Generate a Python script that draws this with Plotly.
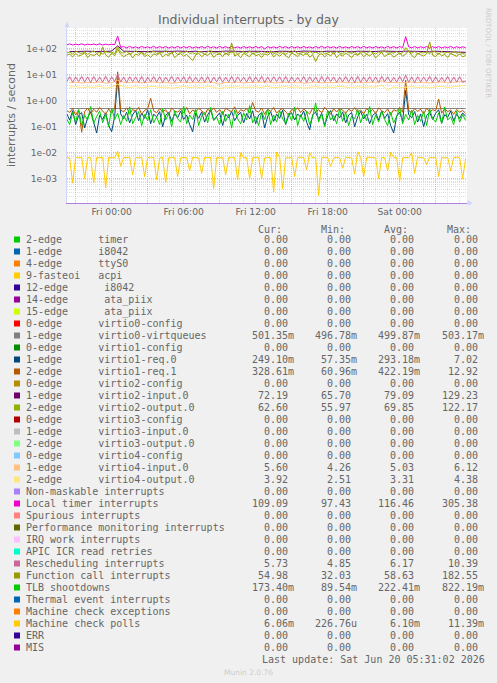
import plotly.graph_objects as go
import pandas as pd

# ---------------- data ----------------
# 15-minute samples Thu 20:15 .. Sat 05:30 (134 points), 30-minute samples Thu 20:30 .. Sat 05:30 (67 points)
t15 = pd.date_range("2026-06-18 20:15", periods=134, freq="15min")
t30 = pd.date_range("2026-06-18 20:30", periods=67, freq="30min")

local_timer = [
    140, 152, 139, 150, 141, 155, 138, 149, 142, 151, 140, 153, 139, 150, 141, 148, 143,
    305,
    112, 121, 107, 123, 108, 119, 106, 122, 109, 118,
    108, 124, 107, 120, 109, 121, 106, 119, 108, 123,
    107, 120, 109, 122, 106, 118, 108, 121, 107, 124,
    109, 119, 106, 122, 108, 120, 107, 123, 109, 118,
    106, 121, 108, 119, 107, 122, 109, 120, 98, 121,
    108, 118, 107, 123, 109, 120, 106, 121, 108, 119,
    107, 122, 109, 118, 106, 121, 108, 124, 107, 120,
    109, 119, 106, 122, 108, 118, 107, 121, 109, 120,
    106, 123, 108, 119, 107, 121, 109, 118, 106, 122,
    108, 120, 107, 121, 110,
    290,
    118, 108, 121, 107, 119, 109, 122, 106, 120, 108,
    121, 107, 118, 109, 123, 106, 120, 108, 119, 109.09,
]

virtio2_input = [
    77, 79, 76, 80, 78, 77, 79, 81, 129, 80, 78, 76, 79, 77, 80, 78, 76, 79, 81, 77,
    78, 80, 76, 79, 77, 78, 81, 79, 76, 78, 80, 77, 79, 78, 76, 80, 79, 77, 78, 81,
    79, 76, 78, 80, 77, 79, 78, 76, 80, 79, 77, 78, 81, 79, 76, 78, 80, 77, 79, 78,
    76, 80, 79, 77, 78, 74, 72.19,
]

virtio2_output = [
    68, 74, 62, 80, 71, 65, 77, 60, 72, 84,
    66, 71, 63, 78, 70, 75, 64, 122, 73, 67,
    79, 62, 70, 85, 66, 72, 61, 76, 69, 81,
    64, 73, 68, 88, 62, 71, 77, 59, 74, 67,
    82, 65, 70, 63, 78, 72, 60, 75, 86, 67,
    71, 64, 79, 62, 73, 69, 84, 61, 72, 76,
    66, 80, 63, 70, 74, 58, 77, 68, 83, 64,
    72, 66, 78, 61, 75, 70, 87, 63, 69, 73,
    60, 79, 67, 74, 65, 82, 62, 71, 76, 64,
    78, 68, 63, 85, 70, 66, 74, 59, 77, 72,
    64, 81, 69, 62, 75, 71, 88, 65, 73, 67,
    79, 63, 70, 110, 74, 66, 80, 62, 72, 68,
    76, 64, 84, 70, 61, 77, 67, 73, 65, 79,
    68, 71, 64, 62.6,
]

function_call = [
    55, 62, 48, 66, 52, 58, 70, 45, 60, 54,
    64, 50, 118, 57, 47, 68, 53, 95, 61, 49,
    58, 66, 44, 63, 55, 71, 50, 59, 46, 64,
    56, 69, 48, 61, 53, 74, 45, 58, 65, 51,
    60, 47, 35, 57, 67, 49, 62, 54, 72, 46,
    59, 63, 50, 68, 55, 165, 52, 61, 45, 66,
    57, 49, 70, 53, 60, 46, 64, 56, 73, 48,
    62, 51, 67, 55, 44, 69, 58, 50, 63, 54,
    71, 47, 59, 32, 56, 65, 48, 62, 53, 74,
    45, 60, 52, 68, 57, 46, 63, 55, 70, 49,
    61, 53, 66, 44, 58, 72, 50, 59, 64, 47,
    57, 68, 51, 62, 85, 55, 45, 67, 58, 52,
    64, 182.55, 56, 49, 69, 53, 60, 46, 65, 57,
    51, 63, 48, 54.98,
]

rescheduling = [
    5.3, 8.4, 5.1, 8.1, 5.4, 8.6, 5.2, 8.2, 5.0, 8.5,
    5.3, 8.0, 5.2, 8.7, 5.1, 8.3, 5.4, 10.39, 5.2, 8.1,
    5.0, 8.4, 5.3, 8.2, 5.1, 8.6, 4.9, 8.0, 5.3, 8.5,
    5.2, 8.3, 5.0, 8.1, 5.4, 8.7, 5.1, 8.2, 5.3, 8.4,
    5.0, 8.6, 5.2, 8.0, 5.3, 8.3, 5.1, 8.5, 4.85, 8.2,
    5.3, 8.4, 5.1, 8.1, 5.2, 8.6, 5.0, 8.3, 5.4, 8.0,
    5.2, 8.5, 5.1, 8.2, 5.3, 8.7, 5.0, 8.1, 5.2, 8.4,
    5.4, 8.3, 5.1, 8.6, 5.0, 8.2, 5.3, 8.0, 5.2, 8.5,
    5.1, 8.3, 5.3, 8.1, 5.0, 8.6, 5.2, 8.4, 5.4, 8.2,
    5.1, 8.0, 5.3, 8.5, 5.2, 8.3, 5.0, 8.7, 5.1, 8.1,
    5.3, 8.4, 5.2, 8.2, 5.0, 8.6, 5.4, 8.3, 5.1, 8.0,
    5.2, 8.5, 5.3, 9.6, 5.1, 8.2, 5.0, 8.4, 5.2, 8.1,
    5.4, 8.6, 5.1, 8.3, 5.2, 8.0, 5.3, 8.5, 5.0, 8.2,
    5.2, 8.4, 5.1, 5.73,
]

virtio4_input = [
    5.0, 5.2, 4.8, 5.1, 4.9, 5.3, 4.7, 5.0, 6.12, 5.1, 4.9, 5.2, 4.8, 5.0, 5.3, 4.9, 5.1, 4.7, 5.0, 5.2,
    4.9, 5.1, 4.8, 5.3, 5.0, 4.26, 5.1, 4.9, 5.2, 4.8, 5.0, 5.1, 4.9, 5.3, 4.8, 5.0, 5.2, 4.9, 5.1, 4.7,
    5.0, 5.2, 4.8, 5.1, 4.9, 5.3, 5.0, 4.8, 5.2, 4.9, 5.1, 5.0, 5.8, 4.9, 5.1, 4.8, 5.0, 5.2, 4.9, 5.1,
    4.8, 5.0, 5.3, 4.9, 5.1, 5.2, 5.6,
]

virtio4_output = [
    3.3, 3.5, 3.1, 3.4, 3.2, 3.6, 3.0, 3.3, 4.38, 3.4, 3.2, 3.5, 3.1, 3.3, 3.6, 3.2, 3.4, 3.0, 3.3, 3.5,
    3.2, 3.4, 3.1, 3.6, 3.3, 2.9, 3.4, 3.2, 3.5, 3.1, 3.3, 3.4, 3.2, 3.6, 3.1, 3.3, 3.5, 3.2, 3.4, 3.0,
    3.3, 3.5, 3.1, 3.4, 3.2, 3.6, 3.3, 3.1, 3.5, 3.2, 3.4, 3.3, 4.0, 2.51, 3.4, 3.1, 3.3, 3.5, 3.2, 3.4,
    3.1, 3.3, 3.6, 3.2, 3.4, 3.5, 3.92,
]

virtio0_virtqueues = [
    0.500, 0.499, 0.501, 0.500, 0.498, 0.502, 0.500, 0.499, 0.503, 0.500, 0.499, 0.501, 0.500, 0.497, 0.500, 0.501, 0.499, 0.500, 0.502, 0.500,
    0.499, 0.501, 0.500, 0.498, 0.500, 0.502, 0.499, 0.500, 0.501, 0.500, 0.499, 0.500, 0.502, 0.500, 0.498, 0.501, 0.500, 0.499, 0.500, 0.501,
    0.500, 0.499, 0.502, 0.500, 0.501, 0.499, 0.500, 0.498, 0.501, 0.500, 0.499, 0.502, 0.500, 0.501, 0.499, 0.500, 0.501, 0.500, 0.499, 0.502,
    0.500, 0.499, 0.501, 0.500, 0.498, 0.500, 0.501,
]

virtio1_req0 = [
    0.32, 0.18, 0.41, 0.12, 0.27, 0.35, 0.09, 0.22, 0.38, 0.15,
    0.057, 0.28, 0.19, 0.34, 0.11, 0.064, 0.25, 7.02, 0.31, 0.2,
    0.36, 0.14, 0.29, 0.42, 0.17, 0.33, 0.21, 0.45, 0.13, 0.3,
    0.24, 0.38, 0.1, 0.27, 0.35, 0.16, 0.31, 0.22, 0.4, 0.19,
    0.28, 0.12, 0.064, 0.33, 0.21, 0.37, 0.15, 0.29, 0.43, 0.18,
    0.26, 0.34, 0.11, 0.3, 0.22, 0.39, 0.17, 0.27, 0.36, 0.14,
    0.32, 0.2, 0.41, 0.13, 0.28, 0.35, 0.09, 0.25, 0.38, 0.16,
    0.3, 0.21, 0.44, 0.12, 0.27, 0.34, 0.18, 0.31, 0.23, 0.4,
    0.15, 0.075, 0.29, 0.36, 0.19, 0.33, 0.11, 0.26, 0.42, 0.17,
    0.31, 0.22, 0.37, 0.14, 0.28, 0.35, 0.1, 0.24, 0.39, 0.2,
    0.3, 0.13, 0.27, 0.34, 0.18, 0.41, 0.21, 0.32, 0.11, 0.057,
    0.25, 0.36, 0.16, 2.5, 0.29, 0.22, 0.38, 0.15, 0.31, 0.1,
    0.27, 0.35, 0.19, 0.33, 0.45, 0.14, 0.29, 0.23, 0.4, 0.17,
    0.3, 0.21, 0.34, 0.249,
]

virtio1_req1 = [
    0.42, 0.35, 0.5, 0.28, 0.45, 0.061, 0.38, 0.52, 0.31, 0.47,
    0.36, 0.55, 0.4, 0.3, 0.48, 0.33, 0.51, 12.92, 0.44, 0.37,
    0.53, 0.32, 0.46, 0.39, 0.56, 0.3, 0.43, 0.49, 1.25, 0.41,
    0.34, 0.5, 0.38, 0.45, 0.29, 0.52, 0.4, 0.36, 0.48, 0.33,
    0.55, 0.31, 0.44, 0.37, 0.5, 0.42, 0.28, 0.47, 0.39, 0.53,
    0.35, 0.46, 0.3, 0.51, 0.43, 0.38, 0.58, 0.32, 0.45, 0.4,
    0.49, 0.34, 0.85, 0.41, 0.36, 0.52, 0.3, 0.47, 0.39, 0.55,
    0.33, 0.44, 0.5, 0.37, 0.28, 0.46, 0.41, 0.53, 0.35, 0.48,
    0.4, 0.31, 0.52, 0.38, 0.45, 0.34, 0.56, 0.42, 0.3, 0.49,
    0.37, 0.51, 0.43, 0.33, 0.47, 0.39, 0.54, 0.36, 0.44, 0.31,
    0.5, 0.38, 0.46, 0.32, 0.53, 0.41, 0.35, 0.48, 0.29, 0.45,
    0.4, 0.55, 0.36, 6.2, 0.43, 0.34, 0.5, 0.39, 0.47, 0.31,
    0.52, 0.37, 0.45, 0.41, 1.15, 0.33, 0.49, 0.38, 0.44, 0.3,
    0.46, 0.36, 0.42, 0.329,
]

tlb_shootdowns = [
    0.2, 0.12, 0.35, 0.15, 0.45, 0.11, 0.28, 0.18, 0.6, 0.13,
    0.25, 0.4, 0.14, 0.3, 0.1, 0.52, 0.19, 0.33, 0.12, 0.27,
    0.16, 0.58, 0.13, 0.22, 0.38, 0.11, 0.3, 0.17, 0.45, 0.14,
    0.24, 0.12, 0.5, 0.18, 0.32, 0.1, 0.41, 0.2, 0.15, 0.62,
    0.13, 0.28, 0.19, 0.47, 0.11, 0.26, 0.36, 0.14, 0.55, 0.17,
    0.23, 0.12, 0.39, 0.16, 0.3, 0.0895, 0.44, 0.2, 0.13, 0.34,
    0.18, 0.65, 0.14, 0.25, 0.11, 0.37, 0.19, 0.48, 0.12, 0.28,
    0.15, 0.42, 0.2, 0.13, 0.33, 0.17, 0.56, 0.11, 0.29, 0.16,
    0.38, 0.12, 0.24, 0.822, 0.15, 0.31, 0.1, 0.43, 0.18, 0.27,
    0.13, 0.5, 0.16, 0.35, 0.11, 0.26, 0.2, 0.46, 0.14, 0.32,
    0.17, 0.6, 0.12, 0.28, 0.15, 0.4, 0.19, 0.11, 0.36, 0.14,
    0.25, 0.53, 0.13, 0.3, 0.18, 0.44, 0.12, 0.27, 0.16, 0.38,
    0.11, 0.48, 0.2, 0.15, 0.34, 0.13, 0.57, 0.18, 0.24, 0.12,
    0.4, 0.15, 0.29, 0.173,
]

machine_check_polls = [
    0.0065, 0.0063, 0.00068, 0.0066, 0.0064, 0.0067, 0.0010, 0.0065, 0.0063, 0.00068,
    0.0066, 0.0064, 0.0067, 0.00044, 0.0065, 0.0066, 0.0063, 0.0114, 0.0030, 0.0066,
    0.0064, 0.0067, 0.0014, 0.0065, 0.0063, 0.0066, 0.0012, 0.0064, 0.0067, 0.0065,
    0.0009, 0.0063, 0.0066, 0.0007, 0.0064, 0.0067, 0.0065, 0.0012, 0.0063, 0.0066,
    0.0064, 0.0020, 0.0067, 0.0065, 0.0063, 0.0016, 0.0066, 0.0064, 0.0067, 0.00042,
    0.0065, 0.0063, 0.0066, 0.0014, 0.0064, 0.0067, 0.0065, 0.0009, 0.0100, 0.0063,
    0.0066, 0.0010, 0.0064, 0.0067, 0.0065, 0.0010, 0.0063, 0.0066, 0.0064, 0.00030,
    0.0106, 0.0067, 0.00040, 0.0065, 0.0063, 0.0066, 0.0012, 0.0064, 0.0067, 0.0065,
    0.0022, 0.0102, 0.0063, 0.0066, 0.000227, 0.0064, 0.0067, 0.0065, 0.0030, 0.0063,
    0.0066, 0.0064, 0.0025, 0.0067, 0.0065, 0.0063, 0.0015, 0.0108, 0.0066, 0.0012,
    0.0064, 0.0067, 0.0065, 0.0063, 0.0010, 0.0066, 0.0064, 0.0020, 0.0104, 0.0067,
    0.0065, 0.0008, 0.0063, 0.0066, 0.0064, 0.0101, 0.0016, 0.0067, 0.0065, 0.0063,
    0.0035, 0.0066, 0.0064, 0.0067, 0.0012, 0.0065, 0.0063, 0.0066, 0.0020, 0.0064,
    0.0067, 0.0065, 0.0010, 0.00606,
]

# legend table
labels = [
    "2-edge      timer", "1-edge      i8042", "4-edge      ttyS0", "9-fasteoi   acpi",
    "12-edge      i8042", "14-edge      ata_piix", "15-edge      ata_piix",
    "0-edge      virtio0-config", "1-edge      virtio0-virtqueues",
    "0-edge      virtio1-config", "1-edge      virtio1-req.0", "2-edge      virtio1-req.1",
    "0-edge      virtio2-config", "1-edge      virtio2-input.0", "2-edge      virtio2-output.0",
    "0-edge      virtio3-config", "1-edge      virtio3-input.0", "2-edge      virtio3-output.0",
    "0-edge      virtio4-config", "1-edge      virtio4-input.0", "2-edge      virtio4-output.0",
    "Non-maskable interrupts", "Local timer interrupts", "Spurious interrupts",
    "Performance monitoring interrupts", "IRQ work interrupts", "APIC ICR read retries",
    "Rescheduling interrupts", "Function call interrupts", "TLB shootdowns",
    "Thermal event interrupts", "Machine check exceptions", "Machine check polls", "ERR", "MIS",
]
colors = [
    "#00CC00", "#0066B3", "#FF8000", "#FFCC00", "#330099", "#990099", "#CCFF00", "#FF0000",
    "#808080", "#008F00", "#00487D", "#B35A00", "#B38F00", "#6B006B", "#8FB300", "#B30000",
    "#BEBEBE", "#80FF80", "#80C9FF", "#FFC080", "#FFE680", "#AA80FF", "#EE00CC", "#FF8080",
    "#666600", "#FFBFFF", "#00FFCC", "#CC6699", "#999900", "#00CC00", "#0066B3", "#FF8000",
    "#FFCC00", "#330099", "#990099",
]
cur_vals = ["0.00", "0.00", "0.00", "0.00", "0.00", "0.00", "0.00", "0.00", "501.35m", "0.00",
            "249.10m", "328.61m", "0.00", "72.19", "62.60", "0.00", "0.00", "0.00", "0.00", "5.60",
            "3.92", "0.00", "109.09", "0.00", "0.00", "0.00", "0.00", "5.73", "54.98", "173.40m",
            "0.00", "0.00", "6.06m", "0.00", "0.00"]
min_vals = ["0.00", "0.00", "0.00", "0.00", "0.00", "0.00", "0.00", "0.00", "496.78m", "0.00",
            "57.35m", "60.96m", "0.00", "65.70", "55.97", "0.00", "0.00", "0.00", "0.00", "4.26",
            "2.51", "0.00", "97.43", "0.00", "0.00", "0.00", "0.00", "4.85", "32.03", "89.54m",
            "0.00", "0.00", "226.76u", "0.00", "0.00"]
avg_vals = ["0.00", "0.00", "0.00", "0.00", "0.00", "0.00", "0.00", "0.00", "499.87m", "0.00",
            "293.18m", "422.19m", "0.00", "79.09", "69.85", "0.00", "0.00", "0.00", "0.00", "5.03",
            "3.31", "0.00", "116.46", "0.00", "0.00", "0.00", "0.00", "6.17", "58.63", "222.41m",
            "0.00", "0.00", "6.10m", "0.00", "0.00"]
max_vals = ["0.00", "0.00", "0.00", "0.00", "0.00", "0.00", "0.00", "0.00", "503.17m", "0.00",
            "7.02", "12.92", "0.00", "129.23", "122.17", "0.00", "0.00", "0.00", "0.00", "6.12",
            "4.38", "0.00", "305.38", "0.00", "0.00", "0.00", "0.00", "10.39", "182.55", "822.19m",
            "0.00", "0.00", "11.39m", "0.00", "0.00"]
col_headers = ["Cur:", "Min:", "Avg:", "Max:"]

y_tick_vals = [1e-3, 1e-2, 1e-1, 1e0, 1e1, 1e2]
y_tick_text = ["1e-03", "1e-02", "1e-01", "1e+00", "1e+01", "1e+02"]

title_text = "Individual interrupts - by day"
y_title = "interrupts / second"
last_update = "Last update: Sat Jun 20 05:31:02 2026"
side_text = "RRDTOOL / TOBI OETIKER"
footer = "Munin 2.0.76"

# drawing order follows legend order (rrdtool draws later entries on top)
series = [
    (8, t30, virtio0_virtqueues),
    (10, t15, virtio1_req0),
    (11, t15, virtio1_req1),
    (13, t30, virtio2_input),
    (14, t15, virtio2_output),
    (19, t30, virtio4_input),
    (20, t30, virtio4_output),
    (22, t15, local_timer),
    (27, t15, rescheduling),
    (28, t15, function_call),
    (29, t15, tlb_shootdowns),
    (32, t15, machine_check_polls),
]

# ---------------- layout geometry (pixels) ----------------
W, H = 497, 683
L, R, T, B = 67, 467, 28, 203
FONT = "DejaVu Sans"
MONO = "DejaVu Sans Mono"
TXT = "#666666"


def px(x):
    return (x - L) / (R - L)


def py(y):
    return (B - y) / (B - T)


fig = go.Figure()
for idx, tt, vals in series:
    fig.add_trace(go.Scatter(x=tt, y=vals, mode="lines",
                             line=dict(color=colors[idx], width=1),
                             hoverinfo="skip", showlegend=False))

major_x = pd.date_range("2026-06-18 21:00", "2026-06-20 03:00", freq="3h")
major_text = [d.strftime("%a %H:%M") if d.hour % 6 == 0 else "" for d in major_x]
minor_x = pd.date_range("2026-06-18 21:00", "2026-06-20 05:00", freq="1h")
minor_y = [k * 10.0 ** e for e in range(-4, 3) for k in range(2, 10)]

GRID_MINOR = "#DEDEDE"
GRID_MAJOR = "#F4B0B0"

fig.update_layout(
    width=W, height=H,
    margin=dict(l=L, r=W - R, t=T, b=H - B, pad=0),
    paper_bgcolor="#F0F0F0", plot_bgcolor="#FFFFFF",
    showlegend=False,
    font=dict(family=FONT, color=TXT, size=10),
    xaxis=dict(
        type="date",
        range=["2026-06-18 20:16:40", "2026-06-20 05:36:40"],
        tickmode="array", tickvals=list(major_x), ticktext=major_text,
        tickfont=dict(family=FONT, size=9.2, color=TXT),
        showgrid=True, gridcolor=GRID_MAJOR, griddash="1px,1px", gridwidth=1,
        minor=dict(tickmode="array", tickvals=list(minor_x), showgrid=True,
                   gridcolor=GRID_MINOR, griddash="1px,1px", gridwidth=1, ticks=""),
        ticks="", showline=True, linecolor="#B080DC", linewidth=1,
        zeroline=False, fixedrange=True,
    ),
    yaxis=dict(
        type="log",
        range=[-3.935, 2.796],
        tickmode="array", tickvals=y_tick_vals, ticktext=y_tick_text,
        tickfont=dict(family=FONT, size=9.2, color=TXT),
        showgrid=True, gridcolor=GRID_MAJOR, griddash="1px,1px", gridwidth=1,
        minor=dict(tickmode="array", tickvals=minor_y, showgrid=True,
                   gridcolor=GRID_MINOR, griddash="1px,1px", gridwidth=1, ticks=""),
        ticks="", ticklabelstandoff=7,
        showline=True, linecolor="#CFD6F8", linewidth=1,
        zeroline=False, fixedrange=True,
    ),
)

ann = []


def text(x, y, s, size=10, family=MONO, color=TXT, xanchor="left", angle=0):
    ann.append(dict(x=px(x), y=py(y), xref="paper", yref="paper", text=s.replace(" ", "\u00a0"),
                    showarrow=False, xanchor=xanchor, yanchor="middle", textangle=angle,
                    font=dict(family=family, size=size, color=color),
                    borderpad=0, borderwidth=0))


text(248.5, 19, title_text, size=12.5, family=FONT, xanchor="center")
text(11, 115, y_title, size=11, family=FONT, xanchor="center", angle=-90)
text(488, 53, side_text, size=7, family=FONT, color="#CCCCCC", xanchor="center", angle=90)
text(248, 672, footer, size=7.5, family=FONT, color="#CCCCCC", xanchor="center")

ROW0, ROW_H = 239.5, 12
COL_X = [252.3, 315.0, 378.3, 441.7]
for j, hdr in enumerate(col_headers):
    text(COL_X[j] + 5.5, 229.5, hdr)


def fmt(v):
    if v[-1].isalpha():
        num, suf = v[:-1], v[-1]
    else:
        num, suf = v, " "
    return num.rjust(6) + suf


shapes = []
for i, lab in enumerate(labels):
    y = ROW0 + i * ROW_H
    shapes.append(dict(type="rect", xref="paper", yref="paper",
                       x0=px(14), x1=px(20), y0=py(y - 3), y1=py(y + 3),
                       fillcolor=colors[i], line=dict(width=0)))
    text(26, y, lab)
    for j, col in enumerate([cur_vals, min_vals, avg_vals, max_vals]):
        text(COL_X[j], y, fmt(col[i]))

text(261.7, 659, last_update)

# axis arrows (rrdtool style)
AC = "#CFD6F8"
shapes.append(dict(type="line", xref="paper", yref="paper", x0=px(67), x1=px(67), y0=py(28), y1=py(24),
                   line=dict(color=AC, width=1)))
shapes.append(dict(type="path", xref="paper", yref="paper",
                   path=f"M {px(64.5)} {py(27)} L {px(67)} {py(21.5)} L {px(69.5)} {py(27)} Z",
                   fillcolor=AC, line=dict(width=0)))
shapes.append(dict(type="line", xref="paper", yref="paper", x0=px(467), x1=px(469), y0=py(203), y1=py(203),
                   line=dict(color=AC, width=1)))
shapes.append(dict(type="path", xref="paper", yref="paper",
                   path=f"M {px(467.5)} {py(200)} L {px(473)} {py(203)} L {px(467.5)} {py(206)} Z",
                   fillcolor=AC, line=dict(width=0)))

fig.update_layout(annotations=ann, shapes=shapes)
fig.write_html("out.html", config={"displayModeBar": False})
